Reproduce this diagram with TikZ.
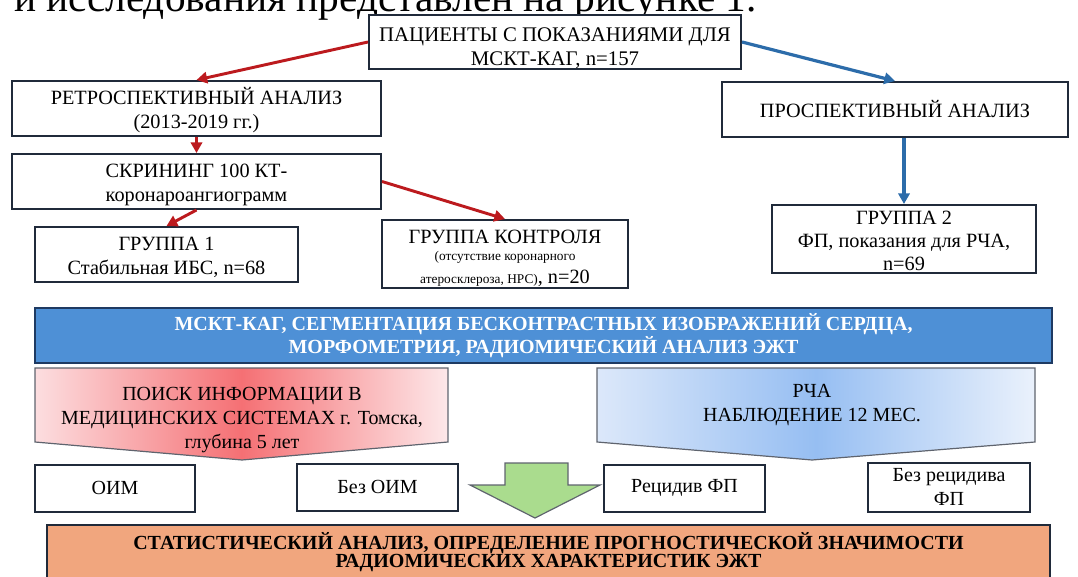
\documentclass[tikz,border=0pt]{standalone}
\usepackage{fontspec}
\setmainfont{Liberation Serif}
\usetikzlibrary{arrows.meta,positioning}

\definecolor{framecol}{RGB}{32,42,58}
\definecolor{arrowred}{RGB}{188,26,30}
\definecolor{arrowblue}{RGB}{44,108,170}
\definecolor{bannerblue}{RGB}{78,144,214}
\definecolor{bannerframe}{RGB}{30,58,98}
\definecolor{resultorange}{RGB}{241,166,126}
\definecolor{downgreen}{RGB}{170,220,142}
\definecolor{pentframe}{RGB}{95,100,110}
\definecolor{pinkedge}{RGB}{252,222,224}
\definecolor{pinkmid}{RGB}{245,112,116}
\definecolor{skyedge}{RGB}{220,232,250}
\definecolor{skymid}{RGB}{150,190,242}

\begin{document}
\begin{tikzpicture}[x=0.75pt,y=-0.75pt]

    % Styles
    \tikzstyle{block} = [rectangle, draw=framecol, line width=1.5pt, fill=white, align=center, inner sep=0pt, font=\fontsize{15.2}{17.5}\selectfont]
    \tikzstyle{twolines} = [text height=29.4pt, text depth=0pt]
    \tikzstyle{threelines} = [text height=46.9pt, text depth=0pt]
    \tikzstyle{outcome} = [block, font=\fontsize{15}{18}\selectfont]
    \tikzstyle{banner} = [rectangle, draw=bannerframe, line width=1.5pt, fill=bannerblue, text=white, align=center, inner sep=0pt, font=\fontsize{15}{13.5}\selectfont\bfseries]
    \tikzstyle{result} = [rectangle, draw=framecol, line width=1.5pt, fill=resultorange, align=center, inner sep=0pt, font=\fontsize{15}{14}\selectfont\bfseries]
    \tikzstyle{penttext} = [align=center, inner sep=0pt, font=\fontsize{15}{18}\selectfont]
    \tikzstyle{redarrow} = [draw=arrowred, line width=2.2pt, -{Triangle[length=8pt,width=8.5pt]}]
    \tikzstyle{bluearrow} = [draw=arrowblue, line width=2.4pt, -{Triangle[length=8pt,width=8.5pt]}]

    \clip (0,0) rectangle (1078,577);

    % Page text above the figure
    \node (caption) [anchor=base east, inner sep=0pt, font=\fontsize{31}{34}\selectfont] at (757,12) {и исследования представлен на рисунке 1.};

    % Nodes
    \node (patients) [block, twolines, text height=35pt, font=\fontsize{15.6}{17.5}\selectfont, minimum width=279pt, minimum height=40.5pt] at (555,42) {ПАЦИЕНТЫ С ПОКАЗАНИЯМИ ДЛЯ\\МСКТ-КАГ, n=157};
    \node (retro) [block, twolines, minimum width=276.75pt, minimum height=41.25pt] at (196.5,108.5) {РЕТРОСПЕКТИВНЫЙ АНАЛИЗ\\(2013-2019 гг.)};
    \node (prosp) [block, minimum width=259.5pt, minimum height=41.25pt] at (895,109.5) {ПРОСПЕКТИВНЫЙ АНАЛИЗ};
    \node (screen) [block, twolines, minimum width=276.75pt, minimum height=41.25pt] at (196.5,181.5) {СКРИНИНГ 100 КТ-\\коронароангиограмм};
    \node (group1) [block, twolines, minimum width=197.25pt, minimum height=41.25pt] at (166.5,254.5) {ГРУППА 1\\Стабильная ИБС, n=68};
    \node (control) [block, text height=44.75pt, text depth=0pt, minimum width=184.5pt, minimum height=51pt, font=\fontsize{15.2}{12.75}\selectfont] at (505,254) {ГРУППА КОНТРОЛЯ\\{\fontsize{10}{12}\selectfont (отсутствие коронарного}\\[4.85pt]{\fontsize{10}{12}\selectfont атеросклероза, НРС)}, n=20};
    \node (group2) [block, threelines, minimum width=198pt, minimum height=51pt, font=\fontsize{15.2}{17}\selectfont] at (904,239) {ГРУППА 2\\ФП, показания для РЧА,\\n=69};

    \node (segment) [banner, minimum width=762.75pt, minimum height=41.25pt] at (543.5,335.5) {МСКТ-КАГ, СЕГМЕНТАЦИЯ БЕСКОНТРАСТНЫХ ИЗОБРАЖЕНИЙ СЕРДЦА,\\МОРФОМЕТРИЯ, РАДИОМИЧЕСКИЙ АНАЛИЗ ЭЖТ};

    % Pentagons
    \path[draw=pentframe, line width=0.9pt, left color=pinkedge, right color=pinkedge!70!white, middle color=pinkmid]
        (35,368) -- (448,368) -- (448,442) -- (242,460) -- (35,442) -- cycle;
    \path[draw=pentframe, line width=0.9pt, left color=skyedge, right color=skyedge!60!white, middle color=skymid]
        (597,368) -- (1035,368) -- (1035,442) -- (812,460) -- (597,442) -- cycle;
    \node (search) [penttext] at (242,420) {ПОИСК ИНФОРМАЦИИ В\\МЕДИЦИНСКИХ СИСТЕМАХ г. Томска,\\глубина 5 лет};
    \node (rfa) [penttext] at (812,405) {РЧА\\НАБЛЮДЕНИЕ 12 МЕС.};

    \node (oim) [outcome, minimum width=120pt, minimum height=35.25pt] at (115,488) {ОИМ};
    \node (nooim) [outcome, minimum width=120.75pt, minimum height=35.25pt] at (377.5,487) {Без ОИМ};
    \node (recid) [outcome, minimum width=120.75pt, minimum height=35.25pt] at (684.5,488) {Рецидив ФП};
    \node (norecid) [outcome, minimum width=121.5pt, minimum height=36.75pt] at (949,487) {Без рецидива\\ФП};

    % Down arrow
    \path[draw=pentframe, line width=0.9pt, fill=downgreen]
        (505,463) -- (568,463) -- (568,485) -- (600,485) -- (535,518) -- (470,485) -- (505,485) -- cycle;

    \node (stats) [result, minimum width=752.25pt, minimum height=40.5pt] at (548.5,552) {СТАТИСТИЧЕСКИЙ АНАЛИЗ, ОПРЕДЕЛЕНИЕ ПРОГНОСТИЧЕСКОЙ ЗНАЧИМОСТИ\\РАДИОМИЧЕСКИХ ХАРАКТЕРИСТИК ЭЖТ};

    % Arrows
    \draw [redarrow] (patients.west) -- (retro.north);
    \draw [bluearrow] (patients.east) -- (prosp.north);
    \draw [redarrow] (retro.south) -- (retro.south |- screen.north);
    \draw [redarrow] (screen.south) -- (group1.north);
    \draw [redarrow] (screen.east) -- (control.north);
    \draw [bluearrow] (prosp.south -| group2.north) -- (group2.north);

\end{tikzpicture}
\end{document}
